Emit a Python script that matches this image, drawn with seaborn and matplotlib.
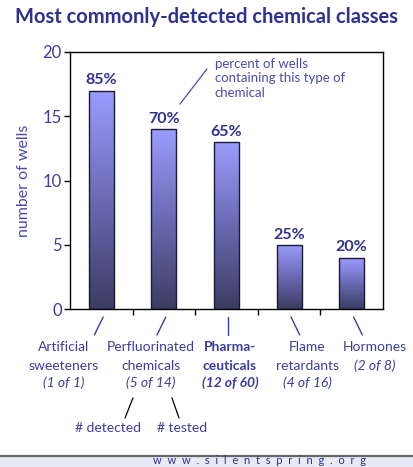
import numpy as np
import pandas as pd
import matplotlib
matplotlib.use("Agg")
import matplotlib.pyplot as plt
import seaborn as sns
from matplotlib.colors import LinearSegmentedColormap
from matplotlib.patches import Rectangle
import matplotlib.transforms as mtransforms

# data
categorias = ["Artificial sweeteners", "Perfluorinated chemicals", "Pharmaceuticals",
              "Flame retardants", "Hormones"]
num_pocos = [17, 14, 13, 5, 4]
pct_pocos = ["85%", "70%", "65%", "25%", "20%"]
detectados = [1, 5, 12, 4, 2]
testados = [1, 14, 60, 16, 8]
nomes_linhas = [["Artificial", "sweeteners"],
                ["Perfluorinated", "chemicals"],
                ["Pharma-", "ceuticals"],
                ["Flame", "retardants"],
                ["Hormones"]]
yticks = [0, 5, 10, 15, 20]

# layout helpers (not data)
deslocamento_rotulo = [-0.596, -0.214, 0.056, 0.286, 0.372]
inclinacao = [-1, -1, 0, 1, 1]

AZUL_TITULO = "#2E3192"
AZUL_TEXTO = "#3D3DA0"

sns.set_style("white")
plt.rcParams['font.family'] = ['Lato', 'DejaVu Sans']

df = pd.DataFrame({"categoria": categorias, "poços": num_pocos})

fig = plt.figure(figsize=(4.13, 4.67), dpi=100)
ax = fig.add_axes([70 / 413, 158 / 467, 313 / 413, 257 / 467])

sns.barplot(data=df, x="categoria", y="poços", width=0.4, ax=ax,
            color="#8080d0", edgecolor="#1a1a30", linewidth=1)

# gradient fill for each bar
cmap = LinearSegmentedColormap.from_list("barra", ["#3c3c62", "#6a6ab4", "#9c9cff"])
grad = np.linspace(0, 1, 256).reshape(-1, 1)
for p in ax.patches:
    x0, y0 = p.get_x(), p.get_y()
    w, h = p.get_width(), p.get_height()
    im = ax.imshow(grad, cmap=cmap, origin="lower", aspect="auto",
                   extent=[x0, x0 + w, y0, y0 + h], zorder=p.get_zorder() - 0.1)
    im.set_clip_path(p)
    p.set_facecolor("none")
    p.set_zorder(3)

ax.set_xlim(-0.5, 4.5)
ax.set_ylim(0, 20)
ax.set_yticks(yticks)
ax.set_xticks([0.5, 1.5, 2.5, 3.5])
ax.set_xticklabels([])
ax.set_xlabel("")
ax.set_ylabel("number of wells", color="#4B4BB0", fontsize=11.5, labelpad=8)
ax.tick_params(axis="y", direction="out", length=4, width=1, color="black",
               labelcolor=AZUL_TEXTO, labelsize=12, left=True, pad=2)
ax.tick_params(axis="x", direction="out", length=4, width=1, color="black", bottom=True)
for s in ax.spines.values():
    s.set_visible(True)
    s.set_color("black")
    s.set_linewidth(1)

# percent labels
for i, (v, t) in enumerate(zip(num_pocos, pct_pocos)):
    ax.text(i, v + 0.25, t, ha="center", va="bottom", fontsize=11.5,
            fontweight="bold", color=AZUL_TITULO)

# annotation for percent
ax.plot([1.257, 1.688], [15.95, 18.68], color="#4B4BB0", lw=0.9)
ax.text(1.816, 19.55, "percent of wells\ncontaining this type of\nchemical",
        ha="left", va="top", fontsize=9.5, color="#4B4BB0", linespacing=1.25)

# category labels below axis
trans = mtransforms.blended_transform_factory(ax.transData, ax.transAxes)
linhas_y = [-0.148, -0.222, -0.288]
for i in range(len(categorias)):
    x_topo = i + 0.03
    ax.plot([x_topo, x_topo + inclinacao[i] * 0.14], [-0.031, -0.101],
            color=AZUL_TEXTO, lw=1, transform=trans, clip_on=False)
    xc = i + deslocamento_rotulo[i]
    peso = "bold" if i == 2 else "normal"
    linhas = nomes_linhas[i]
    for k, txt in enumerate(linhas):
        ax.text(xc, linhas_y[k], txt, ha="center", va="center", fontsize=10,
                color=AZUL_TEXTO, fontweight=peso, transform=trans)
    ax.text(xc, linhas_y[len(linhas)], f"({detectados[i]} of {testados[i]})",
            ha="center", va="center", fontsize=10, color=AZUL_TEXTO,
            fontweight=peso, fontstyle="italic", transform=trans)

# explain (x of y)
ax.plot([0.506, 0.379], [-0.346, -0.424], color="black", lw=0.9, transform=trans, clip_on=False)
ax.plot([1.129, 1.241], [-0.346, -0.424], color="black", lw=0.9, transform=trans, clip_on=False)
ax.text(0.107, -0.463, "# detected", ha="center", va="center", fontsize=10,
        color=AZUL_TEXTO, transform=trans)
ax.text(1.289, -0.463, "# tested", ha="center", va="center", fontsize=10,
        color=AZUL_TEXTO, transform=trans)

fig.text(0.5, 1 - 17 / 467, "Most commonly-detected chemical classes", ha="center",
         va="center", fontsize=14.5, fontweight="bold", color=AZUL_TITULO)

# footer band
fig.patches.append(Rectangle((0, 0), 1, 11 / 467, transform=fig.transFigure,
                             facecolor="#e8e8f6", edgecolor="none", zorder=0))
fig.add_artist(plt.Line2D([0, 1], [11.5 / 467, 11.5 / 467], transform=fig.transFigure,
                          color="#666666", lw=1.6))
fig.text(153 / 413, 1 / 467, "w  w  w  .  s  i  l  e  n  t  s  p  r  i  n  g  .  o  r  g",
         ha="left", va="bottom", fontsize=8, color=AZUL_TITULO)

fig.savefig("out.png", dpi=100)
